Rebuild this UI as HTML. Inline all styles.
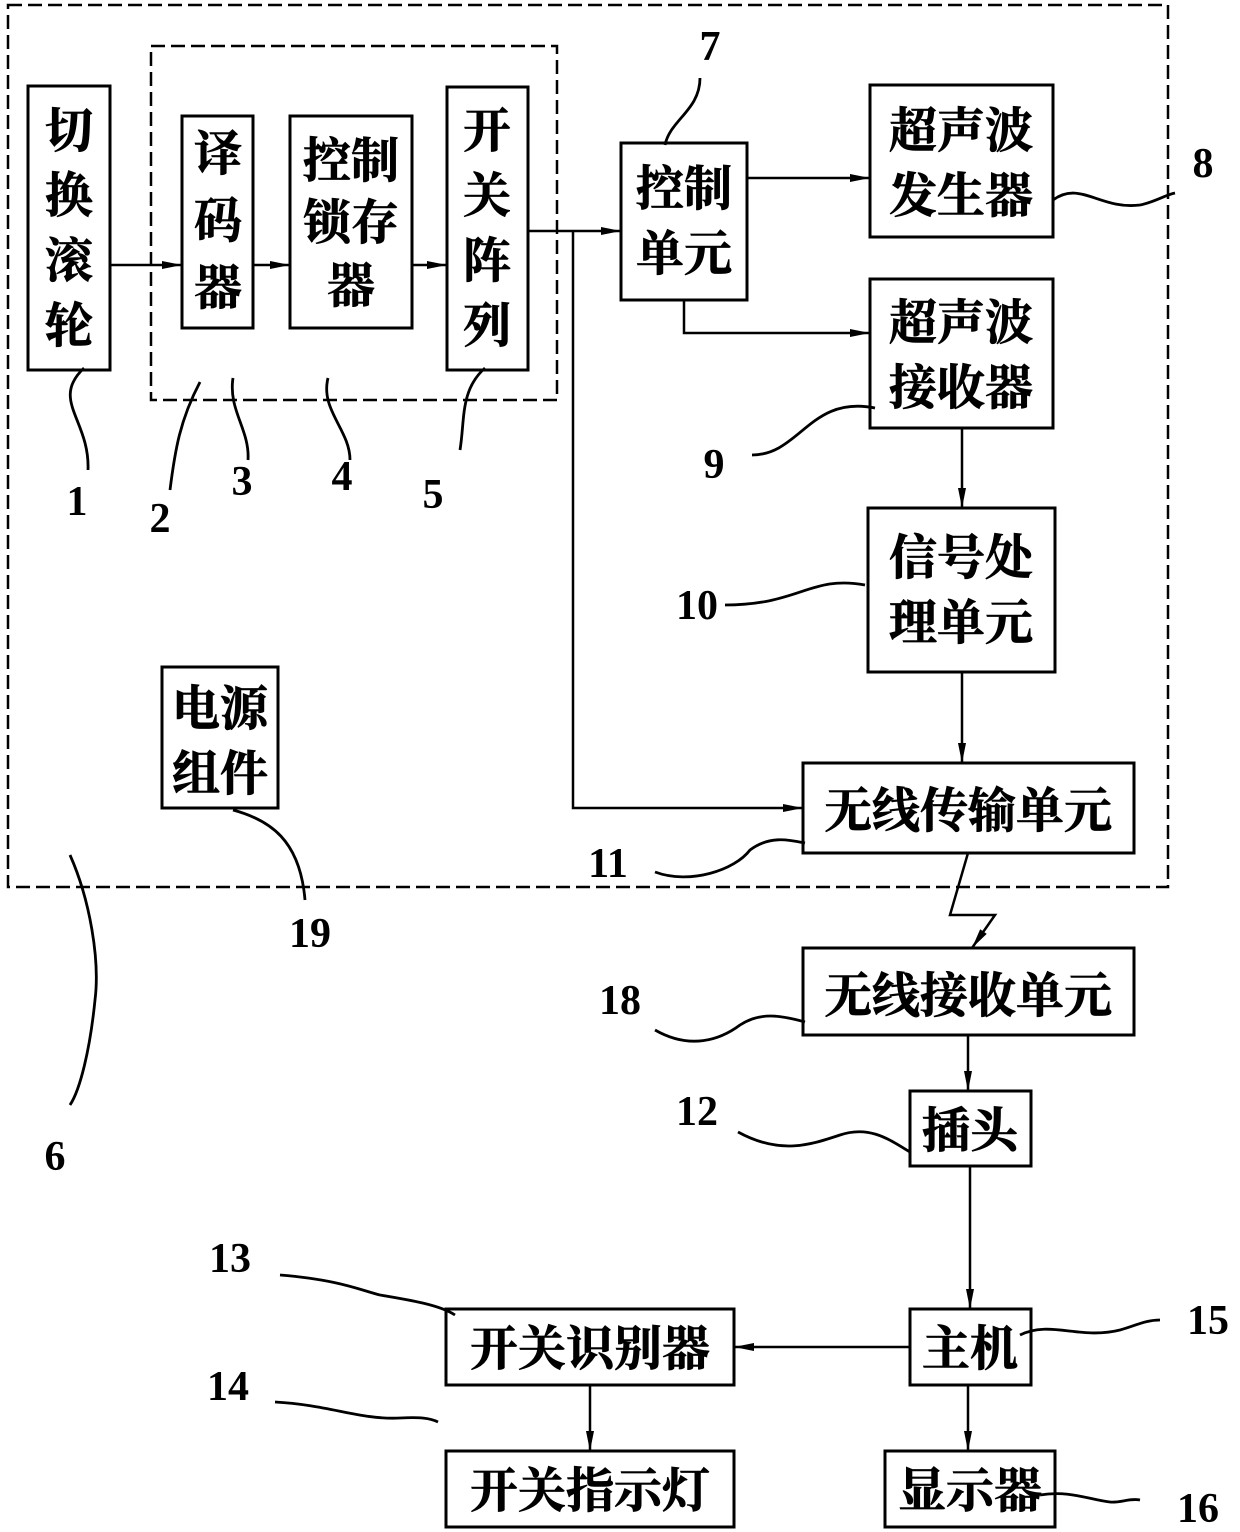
<!DOCTYPE html>
<html><head><meta charset="utf-8"><style>
html,body{margin:0;padding:0;background:#fff}
svg{display:block}
.b{fill:none;stroke:#000;stroke-width:3}
.l{fill:none;stroke:#000;stroke-width:2.5}
.w{fill:none;stroke:#000;stroke-width:2.8}
.d{fill:none;stroke:#000;stroke-width:2.5;stroke-dasharray:14,6}
.t{font-family:"Liberation Serif","Noto Serif CJK SC",serif;font-weight:bold;font-size:48px;fill:#000;stroke:#000;stroke-width:0.8}
.n{font-family:"Liberation Serif",serif;font-weight:bold;font-size:42px;fill:#000}
</style></head><body>
<svg width="1240" height="1532" viewBox="0 0 1240 1532" xmlns="http://www.w3.org/2000/svg">
<defs>
<marker id="ar" viewBox="0 0 20 10" markerWidth="22" markerHeight="10" refX="20" refY="5" orient="auto" markerUnits="userSpaceOnUse"><path d="M0,1 L20,5 L0,9 z" fill="#000"/></marker></defs>
<rect class="d" x="8" y="5" width="1160" height="882"/>
<rect class="d" x="151" y="46" width="406" height="354"/>
<rect class="b" x="28" y="86" width="82" height="284"/>
<rect class="b" x="182" y="116" width="71" height="212"/>
<rect class="b" x="290" y="116" width="122" height="212"/>
<rect class="b" x="447" y="87" width="81" height="283"/>
<rect class="b" x="621" y="143" width="126" height="157"/>
<rect class="b" x="870" y="85" width="183" height="152"/>
<rect class="b" x="870" y="279" width="183" height="149"/>
<rect class="b" x="868" y="508" width="187" height="164"/>
<rect class="b" x="803" y="763" width="331" height="90"/>
<rect class="b" x="162" y="667" width="116" height="141"/>
<rect class="b" x="803" y="948" width="331" height="87"/>
<rect class="b" x="910" y="1091" width="121" height="75"/>
<rect class="b" x="910" y="1309" width="121" height="76"/>
<rect class="b" x="446" y="1309" width="288" height="76"/>
<rect class="b" x="446" y="1451" width="288" height="76"/>
<rect class="b" x="885" y="1451" width="170" height="76"/>
<g class="t" text-anchor="middle">
<text x="69" y="147">切</text><text x="69" y="212">换</text><text x="69" y="277">滚</text><text x="69" y="342">轮</text>
<text x="218" y="170">译</text><text x="218" y="237">码</text><text x="218" y="304">器</text>
<text x="351" y="177">控制</text><text x="351" y="239">锁存</text><text x="351" y="302">器</text>
<text x="487" y="147">开</text><text x="487" y="212">关</text><text x="487" y="277">阵</text><text x="487" y="342">列</text>
<text x="684" y="205">控制</text><text x="684" y="270">单元</text>
<text x="961" y="147">超声波</text><text x="961" y="212">发生器</text>
<text x="961" y="339">超声波</text><text x="961" y="404">接收器</text>
<text x="961" y="574">信号处</text><text x="961" y="639">理单元</text>
<text x="968" y="827">无线传输单元</text>
<text x="968" y="1012">无线接收单元</text>
<text x="970" y="1147">插头</text>
<text x="970" y="1365">主机</text>
<text x="220" y="725">电源</text><text x="220" y="790">组件</text>
<text x="590" y="1365">开关识别器</text>
<text x="590" y="1507">开关指示灯</text>
<text x="970" y="1507">显示器</text>
</g>
<g class="l">
<path d="M110,265 H182" marker-end="url(#ar)"/>
<path d="M253,265 H290" marker-end="url(#ar)"/>
<path d="M412,265 H447" marker-end="url(#ar)"/>
<path d="M528,231 H621" marker-end="url(#ar)"/>
<path d="M573,231 V808 H803" marker-end="url(#ar)"/>
<path d="M747,178 H870" marker-end="url(#ar)"/>
<path d="M684,300 V333 H870" marker-end="url(#ar)"/>
<path d="M962,428 V508" marker-end="url(#ar)"/>
<path d="M962,672 V763" marker-end="url(#ar)"/>
<path d="M968,853 L950,915 L995,915 L972,948" marker-end="url(#ar)"/>
<path d="M968,1035 V1091" marker-end="url(#ar)"/>
<path d="M970,1166 V1309" marker-end="url(#ar)"/>
<path d="M910,1347 H734" marker-end="url(#ar)"/>
<path d="M590,1385 V1451" marker-end="url(#ar)"/>
<path d="M968,1385 V1451" marker-end="url(#ar)"/>
</g>
<g class="w">
<path d="M84,368 C50,400 90,420 88,470"/>
<path d="M200,382 C180,420 175,450 170,490"/>
<path d="M233,378 C228,410 250,430 248,460"/>
<path d="M328,378 C320,410 350,430 350,460"/>
<path d="M485,368 C460,390 465,420 460,450"/>
<path d="M700,78 C700,110 670,120 665,145"/>
<path d="M1053,200 C1080,180 1100,210 1140,205 C1155,202 1165,195 1175,193"/>
<path d="M752,455 C800,455 810,395 875,408"/>
<path d="M725,605 C800,605 810,575 865,585"/>
<path d="M655,872 C690,885 735,870 750,850 C770,835 790,840 805,843"/>
<path d="M655,1030 C690,1050 720,1040 740,1025 C760,1012 780,1015 805,1022"/>
<path d="M738,1132 C780,1155 810,1145 840,1135 C870,1125 890,1140 910,1152"/>
<path d="M280,1275 C340,1280 360,1290 380,1295 C410,1300 440,1305 455,1315"/>
<path d="M275,1402 C330,1405 360,1420 400,1418 C420,1417 430,1418 438,1422"/>
<path d="M1020,1335 C1050,1320 1080,1340 1120,1330 C1135,1326 1145,1320 1160,1320"/>
<path d="M1040,1495 C1070,1490 1090,1500 1110,1502 C1120,1503 1130,1498 1140,1500"/>
<path d="M233,810 C270,820 300,840 305,900"/>
<path d="M70,855 C90,900 100,960 95,1000 C90,1050 80,1090 70,1105"/>
</g>
<g class="n" text-anchor="middle">
<text x="77" y="515">1</text><text x="160" y="532">2</text><text x="242" y="495">3</text><text x="342" y="490">4</text><text x="433" y="508">5</text>
<text x="55" y="1170">6</text><text x="710" y="60">7</text><text x="1203" y="177">8</text><text x="714" y="478">9</text>
<text x="697" y="619">10</text><text x="608" y="877">11</text><text x="697" y="1125">12</text><text x="230" y="1272">13</text>
<text x="228" y="1400">14</text><text x="1208" y="1334">15</text><text x="1198" y="1522">16</text><text x="620" y="1014">18</text>
<text x="310" y="947">19</text>
</g>
</svg>
</body></html>
